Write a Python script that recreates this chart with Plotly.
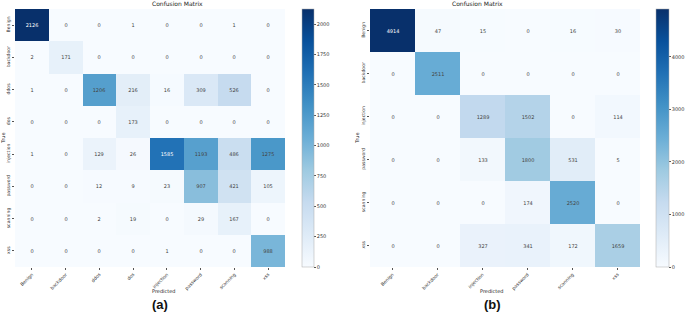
import plotly.graph_objects as go

classes_a = ["Benign", "backdoor", "ddos", "dos", "injection", "password", "scanning", "xss"]
values_a = [
    [2126, 0, 0, 1, 0, 0, 1, 0],
    [2, 171, 0, 0, 0, 0, 0, 0],
    [1, 0, 1206, 216, 16, 309, 526, 0],
    [0, 0, 0, 173, 0, 0, 0, 0],
    [1, 0, 129, 26, 1585, 1193, 486, 1275],
    [0, 0, 12, 9, 23, 907, 421, 105],
    [0, 0, 2, 19, 0, 29, 167, 0],
    [0, 0, 0, 0, 1, 0, 0, 988],
]
ticks_a = [0, 250, 500, 750, 1000, 1250, 1500, 1750, 2000]

classes_b = ["Benign", "backdoor", "injection", "password", "scanning", "xss"]
values_b = [
    [4914, 47, 15, 0, 16, 30],
    [0, 2511, 0, 0, 0, 0],
    [0, 0, 1289, 1502, 0, 114],
    [0, 0, 133, 1800, 531, 5],
    [0, 0, 0, 174, 2520, 0],
    [0, 0, 327, 341, 172, 1659],
]
ticks_b = [0, 1000, 2000, 3000, 4000]

W, H = 685, 314
blues = [
    [0.0, "rgb(247,251,255)"], [0.125, "rgb(222,235,247)"], [0.25, "rgb(198,219,239)"],
    [0.375, "rgb(158,202,225)"], [0.5, "rgb(107,174,214)"], [0.625, "rgb(66,146,198)"],
    [0.75, "rgb(33,113,181)"], [0.875, "rgb(8,81,156)"], [1.0, "rgb(8,48,107)"],
]
FONT = "DejaVu Sans"

def px_x(v):
    return v / W

def px_y(v):
    return 1 - v / H

fig = go.Figure()
fig.add_trace(go.Heatmap(z=values_a, x=classes_a, y=classes_a, coloraxis="coloraxis",
                         xaxis="x", yaxis="y", texttemplate="%{z}",
                         textfont=dict(size=5, family=FONT)))
fig.add_trace(go.Heatmap(z=values_b, x=classes_b, y=classes_b, coloraxis="coloraxis2",
                         xaxis="x2", yaxis="y2", texttemplate="%{z}",
                         textfont=dict(size=5, family=FONT)))

top, bot = 9, 267
axis_common = dict(showgrid=False, zeroline=False, ticks="outside", ticklen=2,
                   tickcolor="#555", tickfont=dict(size=4.6, family=FONT, color="#333"),
                   showline=False)
cb_common = dict(thicknessmode="pixels", len=(bot - top) / H,
                 y=(px_y(bot) + px_y(top)) / 2, yanchor="middle", xanchor="left",
                 ticks="outside", ticklen=2, tickcolor="#555",
                 tickfont=dict(size=5, family=FONT, color="#333"),
                 outlinewidth=0.5, outlinecolor="#aaa", xpad=0, ypad=0)
fig.update_layout(
    width=W, height=H,
    margin=dict(l=0, r=0, t=0, b=0),
    paper_bgcolor="white", plot_bgcolor="white",
    font=dict(family=FONT, color="#222"),
    xaxis=dict(domain=[px_x(15), px_x(285)], anchor="y", tickangle=-45, **axis_common),
    yaxis=dict(domain=[px_y(bot), px_y(top)], anchor="x", autorange="reversed",
               tickangle=-90, **axis_common),
    xaxis2=dict(domain=[px_x(370), px_x(640)], anchor="y2", tickangle=-45, **axis_common),
    yaxis2=dict(domain=[px_y(bot), px_y(top)], anchor="x2", autorange="reversed",
                tickangle=-90, **axis_common),
    coloraxis=dict(colorscale=blues, cmin=0, cmax=max(max(r) for r in values_a),
                   colorbar=dict(x=px_x(302), thickness=12, tickvals=ticks_a, **cb_common)),
    coloraxis2=dict(colorscale=blues, cmin=0, cmax=max(max(r) for r in values_b),
                    colorbar=dict(x=px_x(656), thickness=13, tickvals=ticks_b, **cb_common)),
)

ann = []
for cx, tx, ty in [((15 + 285) / 2, 3, 138), ((370 + 640) / 2, 357, 138)]:
    ann.append(dict(text="Confusion Matrix", x=px_x(cx), y=px_y(4), xref="paper", yref="paper",
                    yanchor="middle", showarrow=False, font=dict(size=6, family=FONT, color="#222")))
    ann.append(dict(text="Predicted", x=px_x(cx), y=px_y(291), xref="paper", yref="paper",
                    yanchor="middle", showarrow=False, font=dict(size=5, family=FONT, color="#222")))
    ann.append(dict(text="True", x=px_x(tx), y=px_y(ty), xref="paper", yref="paper",
                    xanchor="center", yanchor="middle",
                    textangle=-90, showarrow=False, font=dict(size=5, family=FONT, color="#222")))
ann.append(dict(text="<b>(a)</b>", x=px_x(150), y=px_y(304), xref="paper", yref="paper",
                yanchor="middle", showarrow=False,
                font=dict(size=13, family="Liberation Sans", color="#111")))
ann.append(dict(text="<b>(b)</b>", x=px_x(503), y=px_y(304), xref="paper", yref="paper",
                yanchor="middle", showarrow=False,
                font=dict(size=13, family="Liberation Sans", color="#111")))
fig.update_layout(annotations=ann)

fig.write_html("out.html", config={"displayModeBar": False},
               post_script="document.body.style.margin='0px';")
